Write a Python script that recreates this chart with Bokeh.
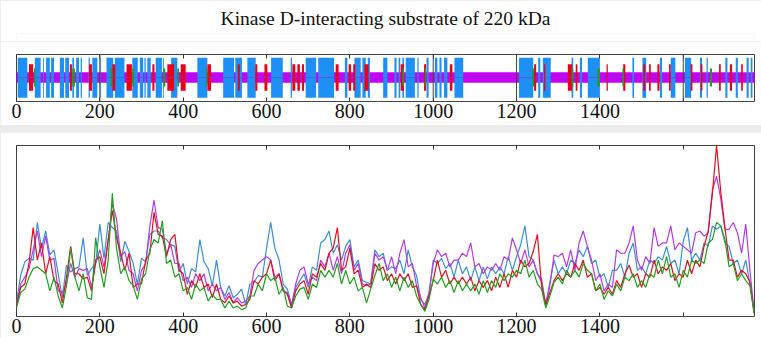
from bokeh.plotting import figure
from bokeh.models import Range1d, LinearAxis, FixedTicker, Span
from bokeh.layouts import column
from bokeh.embed import file_html
from bokeh.resources import INLINE

TITLE = "Kinase D-interacting substrate of 220 kDa"
LENGTH = 1771
tick_positions = [0, 200, 400, 600, 800, 1000, 1200, 1400, 1600]
tick_labels = ["0", "200", "400", "600", "800", "1000", "1200", "1400", ""]

# ---- domain map (residue ranges) ----
blue_start = [3, 44, 64, 71, 83, 104, 117, 134, 143, 154, 173, 182, 201, 216, 236, 278, 296, 307, 314, 334,
              352, 371, 434, 496, 525, 554, 611, 658, 694, 724, 788, 811, 830, 843, 880, 907, 917, 926, 934, 962,
              984, 1004, 1015, 1026, 1051, 1206, 1252, 1263, 1332, 1352, 1371, 1478, 1502, 1544, 1570, 1604, 1640,
              1656, 1701, 1726, 1752, 1762]
blue_end = [26, 58, 66, 80, 90, 114, 126, 138, 150, 157, 176, 194, 203, 232, 259, 291, 304, 310, 322, 349,
            354, 386, 458, 522, 541, 574, 639, 661, 719, 762, 794, 826, 838, 848, 890, 912, 921, 930, 956, 965,
            989, 1010, 1020, 1034, 1072, 1240, 1257, 1282, 1336, 1357, 1400, 1482, 1511, 1549, 1581, 1619, 1645,
            1659, 1706, 1731, 1757, 1766]
red_start = [30, 128, 174, 230, 264, 326, 362, 394, 458, 531, 573, 595, 662, 674, 685, 766, 797, 808, 835, 922,
             978, 1040, 1242, 1266, 1323, 1342, 1416, 1456, 1504, 1518, 1538, 1566, 1618, 1642, 1686, 1712, 1739]
red_end = [40, 133, 181, 237, 277, 331, 378, 406, 467, 536, 578, 602, 669, 680, 690, 773, 803, 813, 845, 930,
           983, 1046, 1247, 1269, 1333, 1346, 1419, 1461, 1509, 1522, 1543, 1570, 1622, 1646, 1690, 1717, 1743]
green_start = [42, 134, 226, 278, 352, 386, 455, 926, 980, 1238, 1332, 1394, 1454, 1664]
green_end = [45, 140, 230, 282, 357, 390, 458, 930, 983, 1242, 1336, 1400, 1458, 1669]
separators = [200, 1000, 1200, 1600]

# ---- profiles (one value every 10 residues) ----
positions = list(range(0, LENGTH, 10))
profile_blue = [8, 24, 32, 34, 33, 55, 40, 50, 36, 39, 25, 11, 30, 26, 28, 29, 46, 24, 28, 31,
                54, 34, 55, 52, 50, 32, 44, 38, 31, 19, 34, 32, 48, 50, 50, 46, 45, 42, 41, 26,
                31, 19, 28, 26, 45, 32, 28, 18, 33, 17, 12, 18, 11, 13, 16, 7, 19, 20, 24, 23,
                40, 55, 40, 33, 19, 16, 7, 17, 21, 25, 17, 29, 27, 43, 45, 50, 37, 42, 33, 41,
                45, 29, 33, 21, 20, 19, 39, 35, 37, 27, 29, 28, 33, 25, 39, 29, 24, 10, 7, 13,
                33, 31, 34, 28, 31, 23, 33, 25, 29, 21, 29, 21, 29, 22, 29, 25, 29, 25, 35, 27,
                35, 42, 53, 35, 33, 25, 22, 7, 20, 33, 25, 29, 25, 33, 31, 39, 35, 41, 31, 33,
                23, 25, 17, 27, 27, 31, 23, 37, 43, 27, 29, 25, 33, 31, 35, 33, 41, 31, 33, 25,
                44, 52, 33, 37, 33, 43, 41, 53, 51, 53, 43, 41, 31, 33, 25, 33, 19, 4]
profile_red = [6, 17, 19, 31, 52, 33, 43, 25, 35, 21, 19, 8, 23, 41, 25, 25, 22, 23, 15, 33,
               35, 25, 45, 62, 46, 37, 27, 37, 17, 19, 19, 33, 37, 61, 48, 47, 35, 45, 48, 27,
               25, 13, 21, 17, 25, 17, 19, 11, 19, 10, 8, 12, 8, 9, 6, 7, 10, 21, 19, 23,
               25, 33, 21, 25, 15, 13, 5, 15, 19, 21, 13, 25, 23, 31, 27, 37, 40, 52, 27, 29,
               40, 25, 27, 17, 19, 17, 31, 27, 29, 21, 25, 19, 25, 21, 25, 17, 18, 7, 4, 12,
               21, 33, 23, 27, 19, 23, 19, 23, 19, 23, 15, 21, 17, 21, 15, 23, 17, 25, 17, 27,
               23, 33, 29, 31, 38, 48, 18, 7, 14, 21, 25, 21, 25, 23, 31, 27, 33, 23, 25, 15,
               17, 13, 17, 13, 21, 17, 25, 30, 23, 25, 17, 25, 23, 33, 25, 29, 27, 31, 21, 25,
               23, 33, 25, 33, 29, 41, 50, 72, 100, 73, 52, 33, 33, 23, 27, 25, 20, 2]
profile_green = [5, 14, 16, 23, 28, 29, 27, 25, 15, 23, 12, 5, 18, 40, 23, 15, 25, 11, 10, 46,
                 29, 17, 33, 72, 40, 25, 29, 21, 18, 10, 22, 25, 39, 45, 43, 56, 31, 33, 23, 25,
                 15, 17, 10, 19, 15, 17, 9, 13, 10, 10, 5, 9, 5, 6, 4, 5, 12, 12, 19, 15,
                 25, 21, 23, 13, 17, 6, 5, 12, 16, 17, 10, 19, 17, 27, 23, 27, 23, 31, 19, 27,
                 19, 23, 15, 17, 8, 16, 24, 31, 21, 25, 17, 23, 15, 23, 17, 21, 12, 7, 3, 10,
                 22, 19, 23, 17, 21, 14, 21, 15, 19, 15, 19, 13, 21, 14, 21, 17, 25, 21, 25, 23,
                 27, 25, 33, 23, 27, 19, 16, 5, 12, 20, 23, 19, 27, 23, 27, 23, 31, 27, 25, 15,
                 19, 10, 15, 12, 19, 15, 23, 21, 25, 17, 21, 17, 25, 23, 33, 25, 35, 23, 25, 17,
                 27, 23, 33, 31, 33, 31, 43, 45, 55, 53, 45, 29, 31, 21, 25, 21, 18, 2]
profile_magenta = [7, 19, 23, 28, 39, 50, 35, 47, 33, 34, 15, 14, 19, 31, 23, 28, 27, 28, 17, 31,
                   39, 29, 44, 66, 57, 35, 38, 27, 25, 15, 27, 31, 53, 68, 52, 51, 37, 42, 31, 31,
                   21, 23, 17, 25, 21, 25, 15, 19, 15, 17, 10, 14, 8, 11, 8, 9, 12, 27, 31, 33,
                   35, 33, 23, 25, 15, 14, 6, 19, 27, 29, 19, 23, 21, 33, 29, 37, 27, 35, 25, 37,
                   42, 27, 31, 19, 18, 19, 37, 33, 35, 27, 35, 25, 37, 45, 29, 31, 18, 11, 5, 14,
                   31, 39, 35, 37, 29, 33, 33, 37, 35, 43, 29, 31, 25, 29, 27, 31, 27, 35, 33, 46,
                   39, 31, 39, 29, 33, 25, 20, 7, 18, 36, 35, 37, 29, 39, 27, 43, 50, 41, 33, 21,
                   25, 15, 19, 17, 39, 37, 37, 43, 53, 33, 27, 35, 31, 52, 41, 43, 43, 53, 39, 43,
                   41, 39, 37, 49, 50, 47, 49, 74, 82, 69, 51, 51, 55, 49, 37, 54, 27, 3]

FONT = "Liberation Serif"
C_BLUE, C_RED, C_GREEN, C_MAG = "#1e8ff5", "#e6001c", "#1c9e1c", "#c400f5"


def make_axis(labels, standoff):
    ax = LinearAxis(ticker=FixedTicker(ticks=tick_positions))
    ax.major_label_overrides = {t: (l if labels else "") for t, l in zip(tick_positions, tick_labels)}
    ax.major_tick_in = 4
    ax.major_tick_out = 0
    ax.minor_tick_in = 0
    ax.minor_tick_out = 0
    ax.major_tick_line_color = "#333333"
    ax.axis_line_color = None
    ax.major_label_text_font = FONT
    ax.major_label_text_font_size = "20px" if labels else "0px"
    ax.major_label_text_color = "#111111"
    ax.major_label_standoff = standoff
    return ax


def base_fig(height, yr, top_border, bottom_border):
    f = figure(width=761, height=height, x_range=Range1d(0, LENGTH), y_range=yr,
               output_backend="svg", toolbar_location=None,
               x_axis_location=None, y_axis_location=None,
               min_border_left=16, min_border_right=7,
               min_border_top=top_border, min_border_bottom=bottom_border)
    f.grid.visible = False
    f.outline_line_color = "#444444"
    f.outline_line_width = 1
    f.background_fill_color = "white"
    f.border_fill_color = "white"
    f.add_layout(make_axis(True, 2), "below")
    f.add_layout(make_axis(False, 0), "above")
    return f


# ---- heading ----
head = figure(width=761, height=41, x_range=Range1d(0, 1), y_range=Range1d(0, 1),
              output_backend="svg", toolbar_location=None,
              x_axis_location=None, y_axis_location=None,
              min_border_left=0, min_border_right=0, min_border_top=0, min_border_bottom=0)
head.grid.visible = False
head.outline_line_color = None
head.border_fill_color = "white"
head.background_fill_color = "white"
head.title.text = TITLE
head.title.align = "center"
head.title.text_font = FONT
head.title.text_font_size = "19.5px"
head.title.text_font_style = "normal"
head.title.text_color = "#111111"
head.title.standoff = 10

# ---- top: domain map ----
top = base_fig(84, Range1d(0, 1), 13, 24)
top.quad(left=[0], right=[LENGTH], bottom=0.40, top=0.62, fill_color=C_MAG, line_color=None)
top.quad(left=blue_start, right=blue_end, bottom=0.08, top=0.93, fill_color=C_BLUE, line_color=None)
top.quad(left=red_start, right=red_end, bottom=0.23, top=0.79, fill_color=C_RED, line_color=None)
top.quad(left=green_start, right=green_end, bottom=0.32, top=0.70, fill_color=C_GREEN, line_color=None)
top.line([0, LENGTH], [0.51, 0.51], line_color="#7a3cc8", line_width=1, line_alpha=0.6)
for s in separators:
    top.add_layout(Span(location=s, dimension="height", line_color="#444444", line_width=1))

# ---- bottom: profiles ----
bot = base_fig(206, Range1d(0, 100), 13, 22)
bot.line(positions, profile_blue, line_color="#3b8fd8", line_width=1.2)
bot.line(positions, profile_magenta, line_color="#b43ce6", line_width=1.2)
bot.line(positions, profile_red, line_color="#e0101e", line_width=1.2)
bot.line(positions, profile_green, line_color="#20a020", line_width=1.2)

upper = column(head, top, spacing=0)
layout = column(upper, bot, spacing=7, styles={"background-color": "#ebebeb"})

open("out.html", "w").write(file_html(layout, INLINE))
